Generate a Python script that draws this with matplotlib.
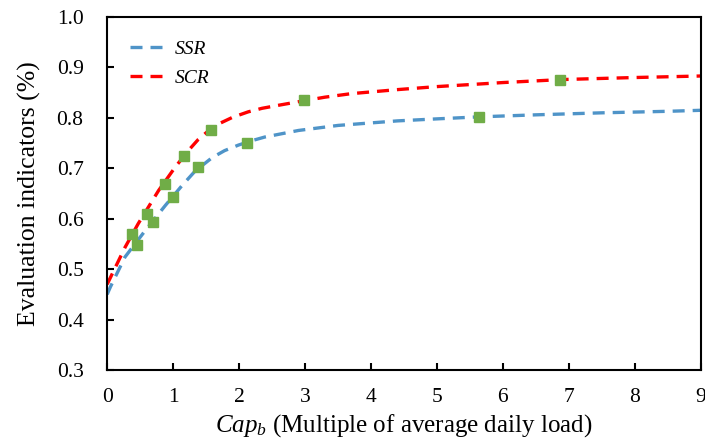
import numpy as np
import matplotlib.pyplot as plt

plt.rcParams['font.family'] = 'Liberation Serif'
plt.rcParams['mathtext.fontset'] = 'custom'
plt.rcParams['mathtext.rm'] = 'Liberation Serif'
plt.rcParams['mathtext.it'] = 'Liberation Serif:italic'

# fitted curves
ssr_x = [0, 0.05, 0.27, 0.58, 0.88, 1.13, 1.33, 1.59, 1.78, 1.99, 2.2, 2.39, 2.9, 3.5, 4.4, 5.0, 5.64, 6.5, 7.5, 8.5, 9.0]
ssr_y = [0.45, 0.465, 0.524, 0.577, 0.626, 0.665, 0.694, 0.721, 0.735, 0.746, 0.755, 0.762, 0.775, 0.785, 0.794, 0.798, 0.802, 0.806, 0.810, 0.813, 0.815]
scr_x = [0, 0.27, 0.47, 0.78, 1.03, 1.23, 1.38, 1.55, 1.69, 1.9, 2.14, 2.35, 2.6, 2.9, 3.3, 3.7, 4.4, 5.0, 6.0, 6.9, 8.0, 9.0]
scr_y = [0.47, 0.543, 0.59, 0.656, 0.702, 0.735, 0.757, 0.776, 0.788, 0.801, 0.812, 0.819, 0.825, 0.832, 0.841, 0.848, 0.856, 0.862, 0.870, 0.876, 0.880, 0.883]

# simulated points
pts_x = [0.38, 0.45, 0.61, 0.70, 0.88, 1.0, 1.17, 1.37, 1.57, 2.12, 2.98, 5.64, 6.87]
pts_y = [0.570, 0.547, 0.610, 0.593, 0.669, 0.644, 0.724, 0.702, 0.775, 0.751, 0.836, 0.802, 0.875]

fig = plt.figure(figsize=(7.05, 4.45), dpi=100)
ax = fig.add_axes([0.152, 0.1685, 0.842, 0.7933])

ax.plot(ssr_x, ssr_y, color='#4f94c8', lw=2.4, dashes=(3.6, 2.4), label='SSR')
ax.plot(scr_x, scr_y, color='#ff0000', lw=2.4, dashes=(3.6, 2.4), label='SCR')
ax.plot(pts_x, pts_y, 's', color='#70ad47', ms=6.5, ls='none')

ax.set_xlim(0, 9)
ax.set_ylim(0.3, 1.0)
ax.set_xticks(range(10))
ax.set_yticks(np.arange(0.3, 1.01, 0.1))
ax.yaxis.set_major_formatter(plt.FuncFormatter(lambda v, p: f'{v:.1f}'))
ax.tick_params(direction='in', length=5, width=1.5, labelsize=15.5)
ax.tick_params(axis='y', pad=17)
ax.tick_params(axis='x', pad=13)
for s in ax.spines.values():
    s.set_linewidth(1.5)

ax.set_xlabel(r'$Cap_b$ (Multiple of average daily load)', fontsize=18, labelpad=4)
ax.set_ylabel('Evaluation indicators (%)', fontsize=18.5, labelpad=11)

leg = ax.legend(loc='upper left', bbox_to_anchor=(0.025, 0.957), frameon=False,
                fontsize=14, handlelength=1.7, handletextpad=0.6,
                borderaxespad=0, labelspacing=0.6)
for t in leg.get_texts():
    t.set_fontstyle('italic')

fig.savefig('out.png', dpi=100)
